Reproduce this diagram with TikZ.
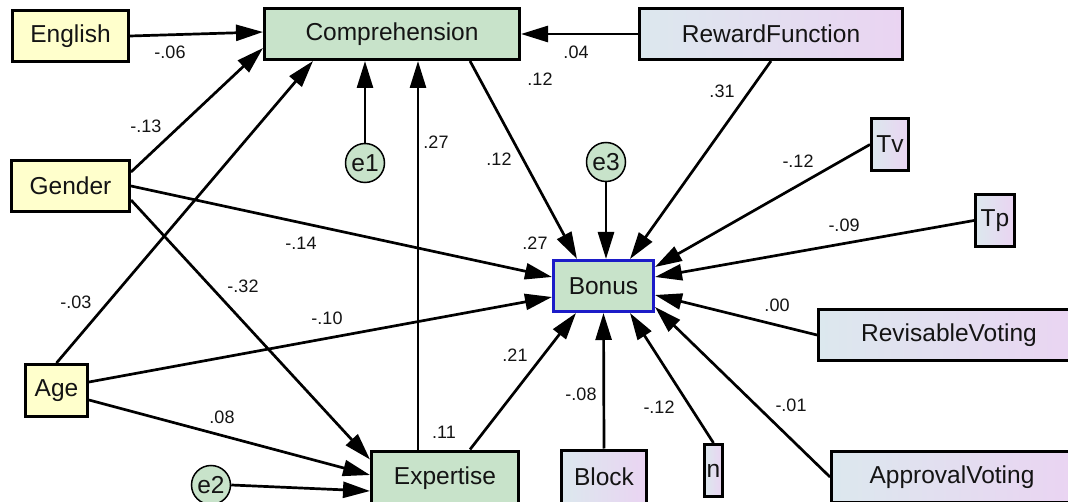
\documentclass[tikz,border=0pt]{standalone}
\usepackage{fontspec}
\setmainfont{Liberation Sans}
\usetikzlibrary{arrows.meta,calc}
\definecolor{yel}{RGB}{255,255,204}
\definecolor{grn}{RGB}{200,227,202}
\definecolor{gl}{RGB}{220,232,238}
\definecolor{gr}{RGB}{234,212,242}
\definecolor{bonusblue}{RGB}{28,28,200}
\definecolor{txt}{RGB}{20,20,20}
\begin{document}
\begin{tikzpicture}[x=1pt,y=-1pt,
  box/.style={draw=black, line width=3pt, inner sep=0pt, text=txt,
    font=\fontsize{24.5}{28}\selectfont},
  ybox/.style={box, fill=yel},
  gbox/.style={box, fill=grn},
  pbox/.style={box, left color=gl, right color=gr},
  err/.style={circle, draw=black, line width=1.5pt, fill=grn, minimum size=39pt,
    inner sep=0pt, text=txt, font=\fontsize{24.5}{28}\selectfont},
  link/.style={line width=2.7pt, -{Triangle[length=27pt,width=16pt]}},
  lab/.style={inner sep=0pt, text=txt, font=\fontsize{18}{21}\selectfont}]
\useasboundingbox (0,0) rectangle (1068,502);
\fill[white] (0,0) rectangle (1068,502);
\clip (0,0) rectangle (1068,502);

% nodes
\node[ybox, minimum width=116pt, minimum height=51pt] (english) at (70.5,36) {English};
\node[gbox, minimum width=255pt, minimum height=51pt] (comp) at (392,34) {Comprehension};
\node[pbox, minimum width=263pt, minimum height=51pt] (rf) at (771,34) {RewardFunction};
\node[ybox, minimum width=118pt, minimum height=51pt] (gender) at (70.5,186) {Gender};
\node[ybox, minimum width=62pt, minimum height=52pt] (age) at (56.5,390.5) {Age};
\node[gbox, minimum width=147pt, minimum height=54pt] (exp) at (445,478) {Expertise};
\node[gbox, draw=bonusblue, minimum width=100pt, minimum height=51pt] (bonus) at (603.5,286) {Bonus};
\node[pbox, minimum width=37pt, minimum height=52pt] (tv) at (890,144.5) {Tv};
\node[pbox, minimum width=39pt, minimum height=52pt] (tp) at (995,220.5) {Tp};
\node[pbox, minimum width=261pt, minimum height=51pt] (rv) at (949,335) {RevisableVoting};
\node[pbox, minimum width=241pt, minimum height=51pt] (av) at (952,477) {ApprovalVoting};
\node[pbox, minimum width=85pt, minimum height=54pt] (block) at (604,477) {Block};
\node[pbox, minimum width=18pt, minimum height=52pt] (n) at (713.5,470.5) {n};
\node[err] (e1) at (365,163) {e1};
\node[err] (e2) at (211,485) {e2};
\node[err] (e3) at (606,162) {e3};

% connectors
\draw[link] (english.east) -- ($(comp.west)+(0,-2)$);
\draw[link] ($(gender.north east)+(0,13)$) -- ($(comp.west)+(0,14)$);
\draw[link] (age.north) -- ($(comp.south west)+(50,0)$);
\draw[link] (e1.north) -- (e1.north |- comp.south);
\coordinate (expc) at ($(exp.north west)+(48,0)$);
\draw[link] (expc) -- (expc |- comp.south);
\draw[link] (rf.west) -- (comp.east);
\draw[link] ($(comp.south east)+(-51,0)$) -- ($(bonus.north west)+(25,0)$);
\draw[link] (rf.south) -- ($(bonus.north west)+(78,0)$);
\draw[link] (e3.south) -- (e3.south |- bonus.north);
\draw[link] (tv.west) -- ($(bonus.north east)+(0,8)$);
\draw[link] (tp.west) -- ($(bonus.east)+(0,-9)$);
\draw[link] (rv.west) -- ($(bonus.east)+(0,9)$);
\draw[link] (av.west) -- ($(bonus.south east)+(0,-6)$);
\draw[link] (n.north) -- ($(bonus.south west)+(78,0)$);
\draw[link] (block.north) -- (bonus.south);
\draw[link] ($(exp.north west)+(100,0)$) -- ($(bonus.south west)+(24,0)$);
\draw[link] (gender.east) -- ($(bonus.west)+(0,-9)$);
\draw[link] ($(age.east)+(0,-8.5)$) -- ($(bonus.west)+(0,11)$);
\draw[link] ($(gender.east)+(0,14)$) -- ($(exp.north west)+(0,10)$);
\draw[link] ($(age.east)+(0,9.5)$) -- ($(exp.west)+(0,-3)$);
\draw[link] (e2.east) -- ($(exp.west)+(0,13)$);

% labels
\node[lab] (l1) at (170,52) {-.06};
\node[lab] (l2) at (146,126) {-.13};
\node[lab] (l3) at (76,302) {-.03};
\node[lab] (l4) at (436,142) {.27};
\node[lab] (l5) at (499,159) {.12};
\node[lab] (l6) at (576,52) {.04};
\node[lab] (l7) at (540,79) {.12};
\node[lab] (l8) at (722,91) {.31};
\node[lab] (l9) at (798,161) {-.12};
\node[lab] (l10) at (844,225) {-.09};
\node[lab] (l11) at (301,243) {-.14};
\node[lab] (l12) at (535,243) {.27};
\node[lab] (l13) at (243,286) {-.32};
\node[lab] (l14) at (327,318) {-.10};
\node[lab] (l15) at (515,355) {.21};
\node[lab] (l16) at (777,305) {.00};
\node[lab] (l17) at (581,394) {-.08};
\node[lab] (l18) at (659,407) {-.12};
\node[lab] (l19) at (791,405) {-.01};
\node[lab] (l20) at (222,417) {.08};
\node[lab] (l21) at (444,432) {.11};
\end{tikzpicture}
\end{document}
